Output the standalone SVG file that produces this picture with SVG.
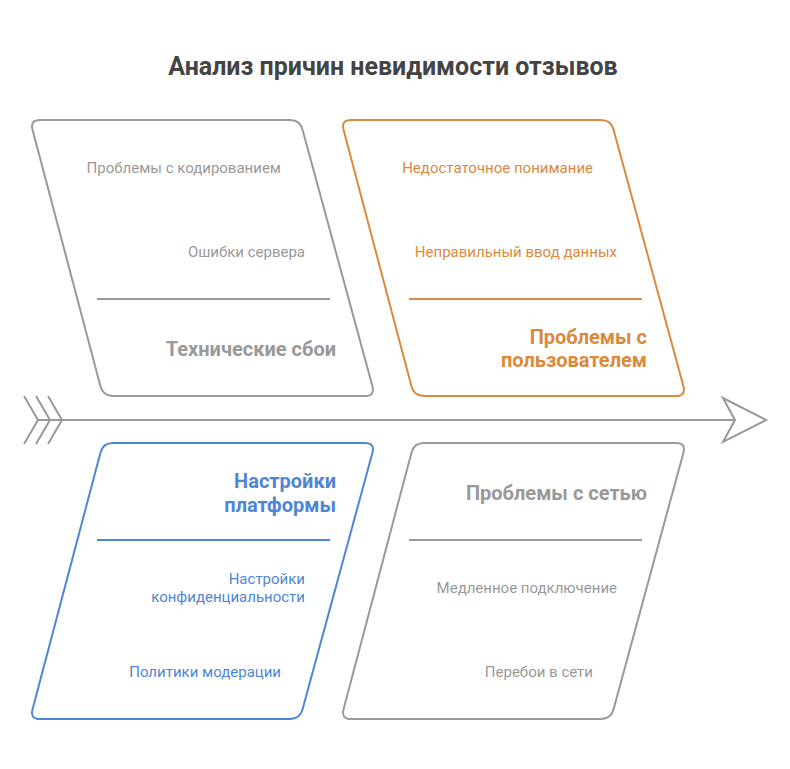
<svg xmlns="http://www.w3.org/2000/svg" width="790" height="769" viewBox="0 0 790 769">
<style>
.t{font-family:Roboto,"Liberation Sans",sans-serif;text-anchor:end}
.i{font-size:15px}
.h{font-size:20px;font-weight:bold}
.gray{fill:#999999}.org{fill:#DA8A3C}.blu{fill:#4F86D4}
.shape{fill:none;stroke-width:2}
</style>
<defs>
<path id="para" d="M40,120 L290,120 Q300,120 302.56,129.67 L372.44,386.33 Q375,396 365,396 L113,396 Q103,396 100.44,386.33 L32.56,129.67 Q30,120 40,120 Z"/>
</defs>
<rect width="790" height="769" fill="#ffffff"/>
<text x="393" y="75" style="font-family:Roboto,'Liberation Sans',sans-serif;font-size:25px;font-weight:bold;fill:#444444;text-anchor:middle">Анализ причин невидимости отзывов</text>
<g id="connectors" fill="none" stroke="#999999" stroke-width="2">
<line x1="38" y1="420" x2="735" y2="420"/>
<polygon points="723,398 766,420 723,442 735,420" fill="#ffffff"/>
<polyline points="24,396 38,420 24,444"/>
<polyline points="36,396 50,420 36,444"/>
<polyline points="48,396 62,420 48,444"/>
</g>
<g id="tech">
<use href="#para" class="shape" stroke="#999999"/>
<line x1="97" y1="299" x2="330" y2="299" stroke="#999999" stroke-width="2"/>
<text class="t i gray" x="281" y="173">Проблемы с кодированием</text>
<text class="t i gray" x="305" y="257">Ошибки сервера</text>
<text class="t h gray" x="336" y="356">Технические сбои</text>
</g>
<g id="user">
<use href="#para" class="shape" stroke="#DA8A3C" transform="translate(311,0)"/>
<line x1="409" y1="299" x2="642" y2="299" stroke="#DA8A3C" stroke-width="2"/>
<text class="t i org" x="593" y="173">Недостаточное понимание</text>
<text class="t i org" x="617" y="257">Неправильный ввод данных</text>
<text class="t h org" x="647" y="344">Проблемы с</text>
<text class="t h org" x="647" y="367">пользователем</text>
</g>
<g id="platform">
<use href="#para" class="shape" stroke="#4F86D4" transform="translate(0,839) scale(1,-1)"/>
<line x1="97" y1="540" x2="330" y2="540" stroke="#4F86D4" stroke-width="2"/>
<text class="t h blu" x="336" y="488">Настройки</text>
<text class="t h blu" x="336" y="512">платформы</text>
<text class="t i blu" x="305" y="584">Настройки</text>
<text class="t i blu" x="305" y="602">конфиденциальности</text>
<text class="t i blu" x="281" y="677">Политики модерации</text>
</g>
<g id="network">
<use href="#para" class="shape" stroke="#999999" transform="translate(311,839) scale(1,-1)"/>
<line x1="409" y1="540" x2="642" y2="540" stroke="#999999" stroke-width="2"/>
<text class="t h gray" x="647" y="500">Проблемы с сетью</text>
<text class="t i gray" x="617" y="593">Медленное подключение</text>
<text class="t i gray" x="593" y="677">Перебои в сети</text>
</g>
</svg>
